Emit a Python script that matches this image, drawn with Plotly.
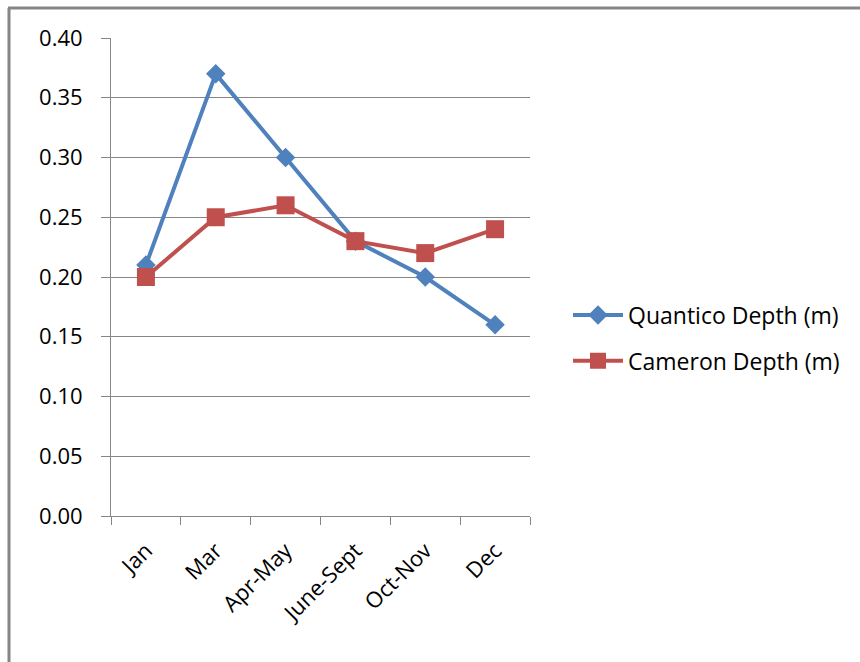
import plotly.graph_objects as go

# Depth readings by sampling period
periods = ["Jan", "Mar", "Apr-May", "June-Sept", "Oct-Nov", "Dec"]
quantico_depth = [0.21, 0.37, 0.30, 0.23, 0.20, 0.16]
cameron_depth = [0.20, 0.25, 0.26, 0.23, 0.22, 0.24]
y_ticks = [0.00, 0.05, 0.10, 0.15, 0.20, 0.25, 0.30, 0.35, 0.40]

W, H = 860, 662
L, R, T, B = 111, 330, 38, 146
pw, ph = W - L - R, H - T - B

def px_x(x):
    return (x - L) / pw

def px_y(y):
    return (H - B - y) / ph

BLUE = "#4F81BD"
RED = "#C0504D"
GRID = "#868686"
FONT = "Open Sans"
FS = 23

fig = go.Figure()
fig.add_trace(go.Scatter(
    x=periods, y=quantico_depth, name="Quantico Depth (m)",
    mode="lines+markers", legendgroup="q",
    line=dict(color=BLUE, width=4),
    marker=dict(symbol="diamond", size=15, color=BLUE),
))
fig.add_trace(go.Scatter(
    x=periods, y=cameron_depth, name="Cameron Depth (m)",
    mode="lines+markers", legendgroup="c",
    line=dict(color=RED, width=4),
    marker=dict(symbol="square", size=18, color=RED),
))

fig.update_layout(
    width=W, height=H,
    margin=dict(l=L, r=R, t=T, b=B),
    paper_bgcolor="white", plot_bgcolor="white",
    font=dict(family=FONT, size=FS, color="black"),
    showlegend=True,
    legend=dict(
        x=px_x(568), y=px_y(338), xanchor="left", yanchor="middle",
        font=dict(family=FONT, size=FS, color="black"),
        itemwidth=50, tracegroupgap=13, bgcolor="rgba(0,0,0,0)",
    ),
    xaxis=dict(
        type="category", range=[-0.5, 5.5],
        showgrid=False, showline=True, linecolor=GRID, linewidth=1,
        ticks="outside", tickson="boundaries", ticklen=8,
        tickcolor=GRID, tickwidth=1, tickangle=-45,
        ticklabelstandoff=12,
        tickfont=dict(family=FONT, size=FS - 1),
    ),
    yaxis=dict(
        range=[0, 0.40], tickvals=y_ticks,
        tickformat=".2f",
        showgrid=True, gridcolor=GRID, gridwidth=1,
        showline=True, linecolor=GRID, linewidth=1,
        ticks="outside", ticklen=9, tickcolor=GRID, tickwidth=1,
        ticklabelstandoff=14,
        tickfont=dict(family=FONT, size=FS - 1),
        zeroline=False,
    ),
    shapes=[
        # chart frame edges along the left and top
        dict(type="line", xref="paper", yref="paper",
             x0=px_x(9), x1=px_x(9), y0=px_y(8), y1=px_y(H + 5),
             line=dict(color=GRID, width=3)),
        dict(type="line", xref="paper", yref="paper",
             x0=px_x(8), x1=px_x(W + 5), y0=px_y(8), y1=px_y(8),
             line=dict(color=GRID, width=3)),
    ],
)

fig.write_html("out.html")
